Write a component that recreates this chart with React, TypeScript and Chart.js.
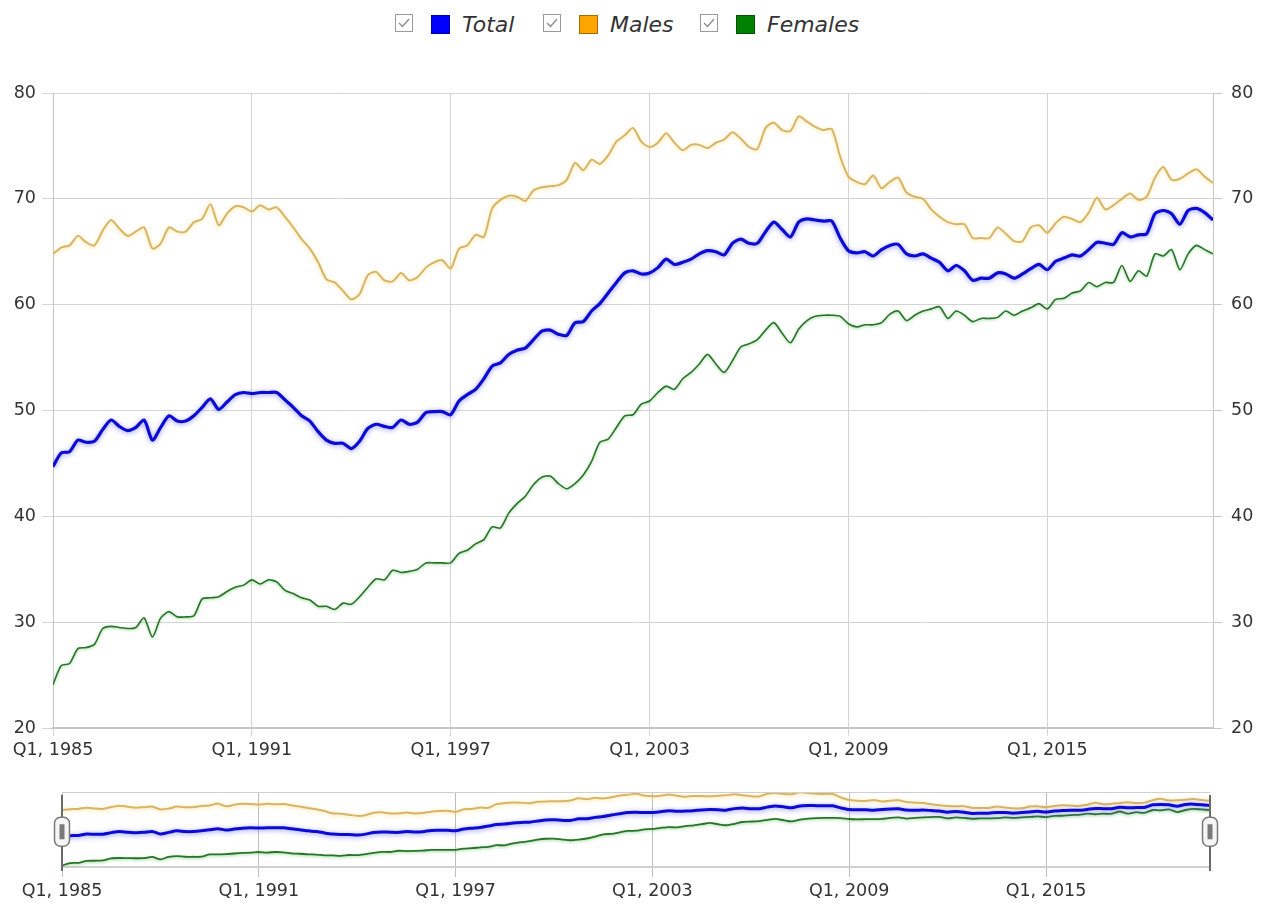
import React, { useEffect, useRef } from "react";
import { Chart, registerables } from "chart.js";

Chart.register(...registerables);

const FONT = '"DejaVu Sans", Verdana, sans-serif';

// Quarterly categories Q1 1985 .. Q1 2020
const quarters: string[] = Array.from({ length: 141 }, (_, i) => `Q${(i % 4) + 1}, ${1985 + Math.floor(i / 4)}`);

// Tick labels shown on the x axis (every 6 years)
const xTickLabels = ["Q1, 1985", "Q1, 1991", "Q1, 1997", "Q1, 2003", "Q1, 2009", "Q1, 2015"];
const yTicks = [20, 30, 40, 50, 60, 70, 80];

const totalSeries = [
  44.7, 46.0, 46.1, 47.2, 47.0, 47.1, 48.2, 49.1, 48.5, 48.1,
  48.4, 49.1, 47.2, 48.4, 49.5, 49.0, 49.0, 49.5, 50.3, 51.1,
  50.1, 50.8, 51.5, 51.7, 51.6, 51.7, 51.7, 51.7, 51.0, 50.3,
  49.5, 49.0, 48.0, 47.2, 46.9, 46.9, 46.4, 47.1, 48.3, 48.7,
  48.5, 48.4, 49.1, 48.7, 48.9, 49.8, 49.9, 49.9, 49.6, 50.9,
  51.5, 52.0, 53.0, 54.2, 54.5, 55.3, 55.7, 55.9, 56.7, 57.5,
  57.6, 57.2, 57.1, 58.3, 58.4, 59.4, 60.1, 61.1, 62.1, 63.0,
  63.2, 62.9, 63.0, 63.5, 64.3, 63.8, 64.0, 64.3, 64.8, 65.1,
  65.0, 64.7, 65.8, 66.2, 65.8, 65.8, 66.9, 67.8, 67.1, 66.4,
  67.8, 68.1, 68.0, 67.9, 67.9, 66.3, 65.1, 64.9, 65.0, 64.6,
  65.2, 65.6, 65.7, 64.8, 64.6, 64.8, 64.4, 64.0, 63.2, 63.7,
  63.2, 62.3, 62.5, 62.5, 63.0, 62.9, 62.5, 62.9, 63.4, 63.8,
  63.3, 64.1, 64.4, 64.7, 64.6, 65.2, 65.9, 65.8, 65.7, 66.8,
  66.4, 66.6, 66.7, 68.6, 68.9, 68.6, 67.6, 68.9, 69.1, 68.7, 68.0,
];

const malesSeries = [
  64.8, 65.4, 65.6, 66.5, 65.9, 65.6, 67.0, 68.0, 67.2, 66.5,
  66.9, 67.3, 65.3, 65.8, 67.3, 66.9, 66.9, 67.8, 68.1, 69.5,
  67.5, 68.6, 69.3, 69.2, 68.8, 69.4, 69.0, 69.2, 68.3, 67.3,
  66.2, 65.3, 64.0, 62.4, 62.1, 61.3, 60.5, 61.0, 62.8, 63.1,
  62.3, 62.2, 63.0, 62.3, 62.6, 63.5, 64.0, 64.2, 63.4, 65.3,
  65.6, 66.6, 66.4, 69.1, 69.9, 70.3, 70.2, 69.8, 70.8, 71.1,
  71.2, 71.3, 71.8, 73.4, 72.7, 73.7, 73.3, 74.1, 75.4, 76.0,
  76.7, 75.4, 74.9, 75.3, 76.2, 75.3, 74.6, 75.1, 75.1, 74.8,
  75.3, 75.6, 76.3, 75.7, 74.9, 74.7, 76.7, 77.2, 76.5, 76.4,
  77.8, 77.3, 76.8, 76.5, 76.6, 74.0, 72.1, 71.6, 71.4, 72.2,
  71.0, 71.6, 72.0, 70.6, 70.2, 70.0, 69.0, 68.3, 67.8, 67.6,
  67.6, 66.3, 66.3, 66.3, 67.3, 66.7, 66.0, 66.0, 67.3, 67.5,
  66.8, 67.7, 68.3, 68.1, 67.8, 68.7, 70.1, 69.0, 69.4, 70.0,
  70.5, 69.9, 70.2, 72.0, 73.0, 71.8, 71.9, 72.4, 72.8, 72.1, 71.5,
];

const femalesSeries = [
  24.1, 25.9, 26.1, 27.5, 27.6, 27.9, 29.4, 29.6, 29.5, 29.4,
  29.5, 30.4, 28.6, 30.4, 31.0, 30.5, 30.5, 30.6, 32.2, 32.3,
  32.4, 32.9, 33.3, 33.5, 34.0, 33.6, 34.0, 33.8, 33.0, 32.7,
  32.3, 32.1, 31.5, 31.5, 31.2, 31.8, 31.7, 32.4, 33.3, 34.1,
  34.0, 34.9, 34.7, 34.8, 35.0, 35.6, 35.6, 35.6, 35.6, 36.5,
  36.8, 37.4, 37.8, 39.0, 38.9, 40.3, 41.2, 41.9, 43.0, 43.7,
  43.8, 43.1, 42.6, 43.1, 43.9, 45.2, 47.0, 47.3, 48.4, 49.5,
  49.6, 50.6, 50.9, 51.7, 52.3, 52.0, 53.0, 53.6, 54.4, 55.3,
  54.4, 53.6, 54.7, 56.0, 56.3, 56.7, 57.6, 58.3, 57.3, 56.4,
  57.7, 58.5, 58.9, 59.0, 59.0, 58.9, 58.2, 57.9, 58.1, 58.1,
  58.3, 59.1, 59.4, 58.5, 59.0, 59.4, 59.6, 59.8, 58.7, 59.4,
  59.0, 58.4, 58.7, 58.7, 58.8, 59.4, 59.0, 59.4, 59.7, 60.1,
  59.6, 60.5, 60.6, 61.1, 61.3, 62.1, 61.7, 62.1, 62.1, 63.7,
  62.2, 63.2, 62.7, 64.8, 64.6, 65.2, 63.3, 64.8, 65.6, 65.2, 64.8,
];

const seriesNames = ["Total", "Males", "Females"];
const legendColors = ["#0000ff", "#ffa500", "#008000"];

const toPoints = (arr: number[]) => arr.map((v, i) => ({ x: i, y: v }));

const glowPlugin = {
  id: "glow",
  beforeDatasetDraw(chart: any, args: any) {
    const ds = chart.data.datasets[args.index];
    const ctx = chart.ctx;
    ctx.save();
    ctx.shadowColor = ds.glowColor || "transparent";
    ctx.shadowBlur = ds.glowBlur || 0;
    ctx.shadowOffsetY = 1;
  },
  afterDatasetDraw(chart: any) {
    chart.ctx.restore();
  },
};

const navigatorPlugin = {
  id: "navigatorDecor",
  afterDraw(chart: any) {
    const ctx = chart.ctx;
    const a = chart.chartArea;
    ctx.save();
    ctx.strokeStyle = "#d0d0d0";
    ctx.lineWidth = 1;
    ctx.beginPath();
    ctx.moveTo(a.left, a.top + 0.5);
    ctx.lineTo(a.right, a.top + 0.5);
    ctx.stroke();
    const cy = a.top + (a.bottom - a.top) * 0.53;
    [a.left, a.right].forEach((x: number) => {
      ctx.strokeStyle = "#6a6a6a";
      ctx.lineWidth = 2;
      ctx.beginPath();
      ctx.moveTo(x, a.top + 3);
      ctx.lineTo(x, a.bottom + 4);
      ctx.stroke();
      ctx.fillStyle = "#f5f5f5";
      ctx.strokeStyle = "#7a7a7a";
      ctx.lineWidth = 1.5;
      ctx.beginPath();
      (ctx as any).roundRect(x - 7.5, cy - 14.5, 15, 29, 6);
      ctx.fill();
      ctx.stroke();
      ctx.fillStyle = "#7a7a7a";
      ctx.fillRect(x - 2.5, cy - 7.5, 5, 15);
    });
    ctx.restore();
  },
};

function makeDatasets(nav: boolean) {
  return [
    {
      label: seriesNames[0],
      data: toPoints(totalSeries),
      borderColor: "#0b0bd2",
      borderWidth: nav ? 3 : 3.2,
      glowColor: "rgba(90,90,255,0.65)",
      glowBlur: 5,
      pointRadius: 0,
      tension: 0.25,
      fill: false,
    },
    {
      label: seriesNames[1],
      data: toPoints(malesSeries),
      borderColor: "#d8b466",
      borderWidth: 2,
      glowColor: "rgba(255,215,110,0.7)",
      glowBlur: 4,
      pointRadius: 0,
      tension: 0.25,
      fill: false,
    },
    {
      label: seriesNames[2],
      data: toPoints(femalesSeries),
      borderColor: "#2a732a",
      borderWidth: nav ? 1.8 : 1.6,
      glowColor: "rgba(90,190,90,0.6)",
      glowBlur: 3,
      pointRadius: 0,
      tension: 0.25,
      fill: false,
    },
  ];
}

const tickFont = { family: FONT, size: 17.5 };
const xCallback = (v: any) => {
  const label = quarters[Number(v)];
  return xTickLabels.includes(label) ? label : "";
};

function LegendItem({ left, idx }: { left: number; idx: number }) {
  return (
    <>
      <svg style={{ position: "absolute", left, top: 14 }} width={18} height={18}>
        <rect x={0.5} y={0.5} width={17} height={17} fill="#fff" stroke="#9a9a9a" strokeWidth={1} />
        <polyline points="4,9 7.5,12.5 14,5" fill="none" stroke="#8a8a8a" strokeWidth={1.3} />
      </svg>
      <div
        style={{
          position: "absolute",
          left: left + 36,
          top: 15,
          width: 17,
          height: 17,
          background: legendColors[idx],
          border: "1px solid rgba(0,0,0,0.35)",
        }}
      />
      <div
        style={{
          position: "absolute",
          left: left + 67,
          top: 13,
          fontFamily: FONT,
          fontStyle: "italic",
          fontSize: 22,
          lineHeight: "24px",
          color: "#333",
          whiteSpace: "nowrap",
        }}
      >
        {seriesNames[idx]}
      </div>
    </>
  );
}

export default function App() {
  const mainRef = useRef<HTMLCanvasElement>(null);
  const navRef = useRef<HTMLCanvasElement>(null);

  useEffect(() => {
    Chart.defaults.color = "#333";
    const main = new Chart(mainRef.current as HTMLCanvasElement, {
      type: "line",
      data: { datasets: makeDatasets(false) as any },
      plugins: [glowPlugin],
      options: {
        animation: false,
        responsive: false,
        layout: { padding: { top: 33, left: 0, right: 0, bottom: 0 } },
        plugins: { legend: { display: false }, tooltip: { enabled: false } },
        scales: {
          x: {
            type: "linear",
            min: 0,
            max: quarters.length - 1,
            afterFit: (s: any) => {
              s.height = 47;
            },
            ticks: {
              stepSize: 24,
              includeBounds: false,
              autoSkip: false,
              maxRotation: 0,
              padding: 4,
              color: "#333",
              font: tickFont,
              callback: xCallback,
            },
            grid: { color: "#d4d4d4", tickLength: 8, lineWidth: 1 },
            border: { color: "#c6c6c6", width: 2 },
          },
          y: {
            position: "left",
            min: yTicks[0],
            max: yTicks[yTicks.length - 1],
            afterFit: (s: any) => {
              s.width = 53;
            },
            ticks: { stepSize: 10, padding: 6, color: "#333", font: tickFont },
            grid: { color: "#d4d4d4", tickLength: 11 },
            border: { color: "#c6c6c6" },
          },
          y2: {
            position: "right",
            min: yTicks[0],
            max: yTicks[yTicks.length - 1],
            afterFit: (s: any) => {
              s.width = 52;
            },
            ticks: { stepSize: 10, padding: 9, color: "#333", font: tickFont },
            grid: { drawOnChartArea: false, color: "#c6c6c6", tickLength: 9 },
            border: { color: "#c6c6c6" },
          },
        },
      } as any,
    });

    const nav = new Chart(navRef.current as HTMLCanvasElement, {
      type: "line",
      data: { datasets: makeDatasets(true) as any },
      plugins: [glowPlugin, navigatorPlugin],
      options: {
        animation: false,
        responsive: false,
        layout: { padding: { top: 12, left: 62, right: 55, bottom: 0 } },
        plugins: { legend: { display: false }, tooltip: { enabled: false } },
        scales: {
          x: {
            type: "linear",
            min: 0,
            max: quarters.length - 1,
            afterFit: (s: any) => {
              s.height = 37;
            },
            ticks: {
              stepSize: 24,
              includeBounds: false,
              autoSkip: false,
              maxRotation: 0,
              padding: 4,
              color: "#333",
              font: tickFont,
              callback: xCallback,
            },
            grid: { color: "#bdbdbd", tickLength: 10, lineWidth: 1 },
            border: { color: "#d0d0d0", width: 2 },
          },
          y: { display: false, min: 23, max: 78 },
        },
      } as any,
    });

    return () => {
      main.destroy();
      nav.destroy();
    };
  }, []);

  return (
    <div style={{ position: "absolute", left: 0, top: 0, width: 1265, height: 904, background: "#fff", overflow: "hidden" }}>
      <LegendItem left={395} idx={0} />
      <LegendItem left={543} idx={1} />
      <LegendItem left={700} idx={2} />
      <canvas
        ref={mainRef}
        width={1265}
        height={715}
        style={{ position: "absolute", left: 0, top: 60, width: 1265, height: 715 }}
      />
      <canvas
        ref={navRef}
        width={1265}
        height={124}
        style={{ position: "absolute", left: 0, top: 780, width: 1265, height: 124 }}
      />
    </div>
  );
}
